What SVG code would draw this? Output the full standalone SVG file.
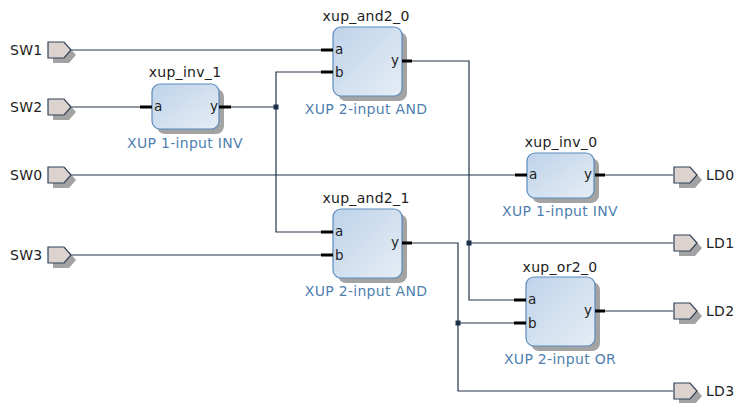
<svg xmlns="http://www.w3.org/2000/svg" width="734" height="403" viewBox="0 0 734 403">
<defs>
<linearGradient id="g" x1="0" y1="0" x2="1" y2="1"><stop offset="0" stop-color="#bed3ea"/><stop offset="1" stop-color="#e6edf5"/></linearGradient>
<g id="port"><path d="M5 5h16l7 8-7 8H5z" fill="#a3a3a3"/><path d="M0 0h16l7 8-7 8H0z" fill="#dcd3cf" stroke="#2f4358" stroke-width="1.2"/></g>
<g id="b2"><rect x="5" y="5" width="69" height="69" rx="8" fill="#a3a3a3"/><rect width="69" height="69" rx="8" fill="url(#g)" stroke="#5b8cbd" stroke-width="1.2"/></g>
<g id="b1"><rect x="5" y="5" width="67" height="45" rx="8" fill="#a3a3a3"/><rect width="67" height="45" rx="8" fill="url(#g)" stroke="#5b8cbd" stroke-width="1.2"/></g>
</defs>
<style>
text{font-family:"DejaVu Sans",Verdana,sans-serif;font-size:14px;letter-spacing:.3px;fill:#222}
.t{text-anchor:middle}
.s{text-anchor:middle;fill:#4f7fb0}
.p{font-size:13.5px;letter-spacing:0}
.w{fill:none;stroke:#22354a;stroke-width:1.2}
.pin{stroke:#000;stroke-width:3;fill:none}
.j{fill:#1d3048}
</style>
<rect width="734" height="403" fill="#fff"/>
<g id="connectors">
<path class="w" d="M71 50H321"/>
<path class="w" d="M71 107H140"/>
<path class="w" d="M71 175H515"/>
<path class="w" d="M71 255H321"/>
<path class="w" d="M231 107H276M321 72H276V232H321"/>
<path class="w" d="M412 61H469V300H514M469 243H673"/>
<path class="w" d="M412 243H458V391H673M458 323H514"/>
<path class="w" d="M605 175H673"/>
<path class="w" d="M605 311H673"/>
<rect class="j" x="273.500" y="104.500" width="5" height="5"/>
<rect class="j" x="466.500" y="240.500" width="5" height="5"/>
<rect class="j" x="455.500" y="320.500" width="5" height="5"/>
</g>
<g id="SW1"><use href="#port" x="48" y="42"/><text x="10" y="55">SW1</text></g>
<g id="SW2"><use href="#port" x="48" y="99"/><text x="10" y="112">SW2</text></g>
<g id="SW0"><use href="#port" x="48" y="167"/><text x="10" y="180">SW0</text></g>
<g id="SW3"><use href="#port" x="48" y="247"/><text x="10" y="260">SW3</text></g>
<g id="LD0"><use href="#port" x="674" y="167"/><text x="706" y="180">LD0</text></g>
<g id="LD1"><use href="#port" x="674" y="235"/><text x="706" y="248">LD1</text></g>
<g id="LD2"><use href="#port" x="674" y="303"/><text x="706" y="316">LD2</text></g>
<g id="LD3"><use href="#port" x="674" y="383"/><text x="706" y="396">LD3</text></g>
<g id="xup_inv_1"><use href="#b1" x="152" y="84"/><path class="pin" d="M140 107H152M219 107H231"/><text class="p" x="154" y="111">a</text><text class="p" x="210" y="111">y</text><text class="t" x="185" y="77">xup_inv_1</text><text class="s" x="185" y="148">XUP 1-input INV</text></g>
<g id="xup_and2_0"><use href="#b2" x="333" y="27"/><path class="pin" d="M321 50H333M321 72H333M402 61H412"/><text class="p" x="335" y="54">a</text><text class="p" x="335" y="77">b</text><text class="p" x="391" y="65">y</text><text class="t" x="366" y="21">xup_and2_0</text><text class="s" x="366" y="114">XUP 2-input AND</text></g>
<g id="xup_and2_1"><use href="#b2" x="333" y="209"/><path class="pin" d="M321 232H333M321 255H333M402 243H412"/><text class="p" x="335" y="236">a</text><text class="p" x="335" y="260">b</text><text class="p" x="391" y="247">y</text><text class="t" x="366" y="203">xup_and2_1</text><text class="s" x="366" y="296">XUP 2-input AND</text></g>
<g id="xup_inv_0"><use href="#b1" x="527" y="153"/><path class="pin" d="M515 175H527M595 175H605"/><text class="p" x="529" y="179">a</text><text class="p" x="584" y="179">y</text><text class="t" x="561" y="147">xup_inv_0</text><text class="s" x="560" y="216">XUP 1-input INV</text></g>
<g id="xup_or2_0"><use href="#b2" x="526" y="277"/><path class="pin" d="M514 300H526M514 323H526M595 311H605"/><text class="p" x="528" y="304">a</text><text class="p" x="528" y="328">b</text><text class="p" x="584" y="315">y</text><text class="t" x="560" y="272">xup_or2_0</text><text class="s" x="560" y="364">XUP 2-input OR</text></g>
</svg>
